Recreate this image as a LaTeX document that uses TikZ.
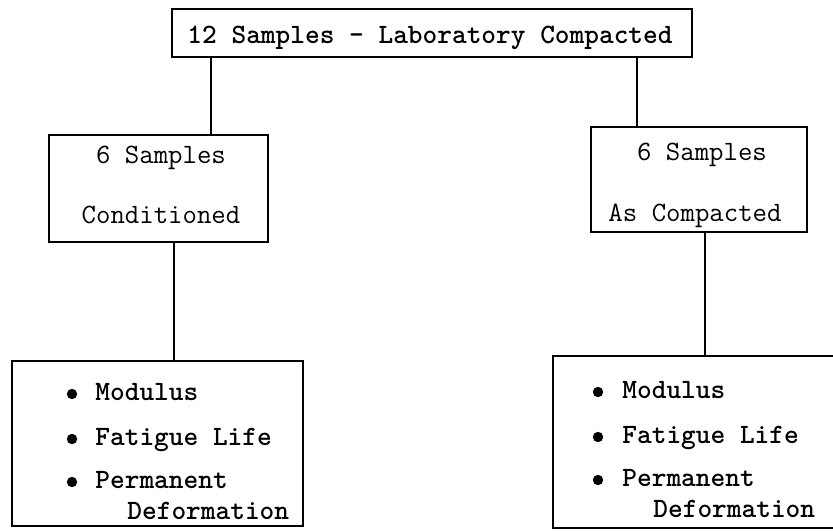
\documentclass[tikz,border=0pt]{standalone}
\usepackage{fontspec}
\begin{document}
\begin{tikzpicture}[x=0.5pt,y=-0.5pt,
  box/.style={draw, line width=1.1pt, rectangle, inner sep=0pt},
  conn/.style={line width=0.75pt},
  tx/.style={font=\fontsize{14}{16}\selectfont\ttfamily, anchor=base, inner sep=0pt},
  bx/.style={font=\fontsize{14}{16}\selectfont\ttfamily\bfseries, anchor=base west, inner sep=0pt},
  bt/.style={font=\fontsize{14}{16}\selectfont\ttfamily\bfseries, anchor=base, inner sep=0pt},
  dot/.style={fill=black}]
\useasboundingbox (0,0) rectangle (833,531);
\clip (0,0) rectangle (833,531);

% boxes
\node[box, minimum width=260pt, minimum height=24pt] (top) at (432,33) {};
\node[box, minimum width=109.5pt, minimum height=53.5pt] (lm) at (158.5,188.5) {};
\node[box, minimum width=108pt, minimum height=52.5pt] (rm) at (699,179.5) {};
\node[box, minimum width=145.5pt, minimum height=82.5pt] (lb) at (157.5,443.5) {};
\node[box, minimum width=143.5pt, minimum height=86pt] (rb) at (696.5,442) {};

% texts
\node[bt] (ttop) at (430,43) {12 Samples - Laboratory Compacted};
\node[tx] (lm1) at (161,163) {6 Samples};
\node[tx] (lm2) at (161,223) {Conditioned};
\node[tx] (rm1) at (702,160) {6 Samples};
\node[tx] (rm2) at (695,221) {As Compacted};

\node[bx] (lb1) at (95,400) {Modulus};
\node[bx] (lb2) at (95,445) {Fatigue Life};
\node[bx] (lb3) at (95,488) {Permanent};
\node[bx] (lb4) at (127,519) {Deformation};
\fill[dot] (72,394) circle[radius=2.6pt];
\fill[dot] (72,439) circle[radius=2.6pt];
\fill[dot] (72,482) circle[radius=2.6pt];

\node[bx] (rb1) at (622,398) {Modulus};
\node[bx] (rb2) at (622,443) {Fatigue Life};
\node[bx] (rb3) at (622,486) {Permanent};
\node[bx] (rb4) at (653,517) {Deformation};
\fill[dot] (598,392) circle[radius=2.6pt];
\fill[dot] (598,437) circle[radius=2.6pt];
\fill[dot] (598,480) circle[radius=2.6pt];

% connectors
\coordinate (c1) at (211,0);
\coordinate (c2) at (637,0);
\coordinate (c3) at (174,0);
\coordinate (c4) at (705,0);
\draw[conn] (top.south -| c1) -- (lm.north -| c1);
\draw[conn] (top.south -| c2) -- (rm.north -| c2);
\draw[conn] (lm.south -| c3) -- (lb.north -| c3);
\draw[conn] (rm.south -| c4) -- (rb.north -| c4);
\end{tikzpicture}
\end{document}
